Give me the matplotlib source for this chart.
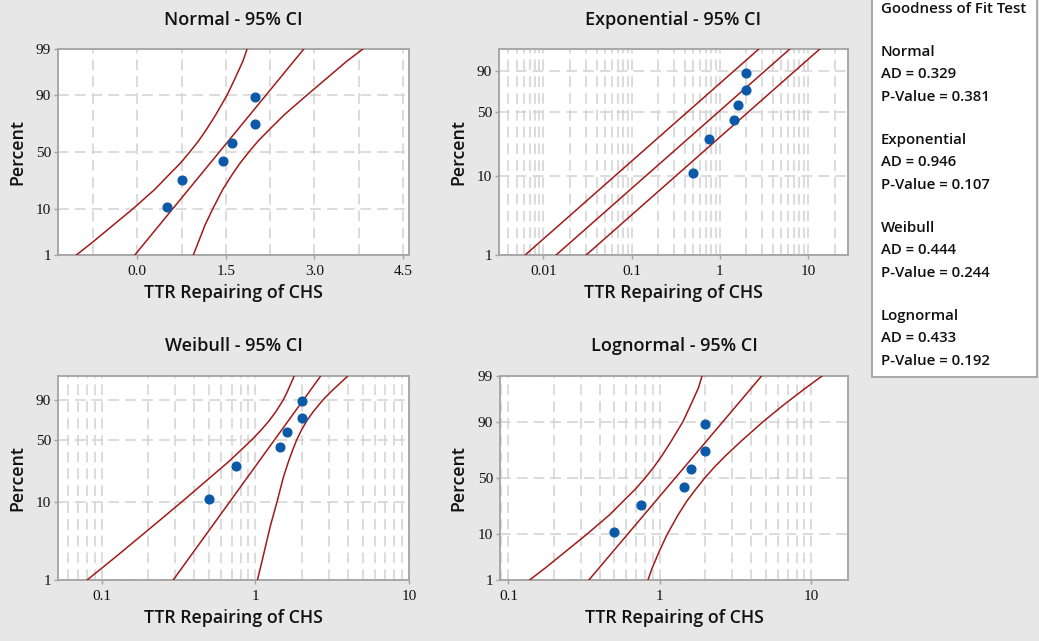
"""
Goodness-of-fit probability plots for TTR Repairing of CHS
(Normal, Exponential, Weibull, Lognormal, each with 95% CI).

Output:
    out.png
"""

from statistics import NormalDist

import matplotlib
matplotlib.use("Agg")
import matplotlib.pyplot as plt
import numpy as np
from matplotlib.patches import Rectangle
from matplotlib.ticker import FixedLocator, LogLocator, NullFormatter, NullLocator

# Sample and median-rank plotting positions
ttr = [0.5, 0.75, 1.45, 1.6, 2.0, 2.0]
pct = [10.9, 26.6, 42.2, 57.8, 73.4, 89.1]

# Normal - fitted line and 95% CI, x read at these percent levels
norm_fit_pct = [1, 99]
norm_fit = [-0.04, 2.82]
norm_ci_pct = [1, 2, 5, 10, 20, 30, 40, 50, 60, 70, 80, 90, 95, 98, 99]
norm_ci_left = [-1.03, -0.77, -0.40, -0.07, 0.30, 0.53, 0.73, 0.89, 1.04, 1.18, 1.33,
                1.52, 1.65, 1.79, 1.86]
norm_ci_right = [0.95, 1.03, 1.15, 1.28, 1.45, 1.60, 1.74, 1.89, 2.05, 2.25, 2.49,
                 2.87, 3.19, 3.55, 3.82]

# Exponential - straight lines on this scale
expo_pct = [1, 99]
expo_fit = [0.0139, 6.4]
expo_ci_left = [0.0062, 2.85]
expo_ci_right = [0.0305, 14.0]

# Weibull
wbl_fit_pct = [1, 99]
wbl_fit = [0.291, 2.64]
wbl_ci_pct = [1, 2, 5, 10, 20, 30, 40, 50, 60, 70, 80, 90, 95, 99]
wbl_ci_left = [0.080, 0.123, 0.215, 0.33, 0.51, 0.67, 0.81, 0.95, 1.085, 1.22, 1.36,
               1.52, 1.62, 1.78]
wbl_ci_right = [1.03, 1.12, 1.25, 1.38, 1.52, 1.64, 1.75, 1.86, 1.99, 2.15, 2.38,
                2.76, 3.14, 3.95]

# Lognormal
logn_fit_pct = [1, 99]
logn_fit = [0.34, 4.70]
logn_ci_pct = [1, 2, 5, 10, 20, 30, 40, 50, 60, 70, 80, 90, 95, 98, 99]
logn_ci_left = [0.138, 0.175, 0.245, 0.33, 0.465, 0.575, 0.69, 0.80, 0.915, 1.04, 1.19,
                1.42, 1.59, 1.80, 1.90]
logn_ci_right = [0.835, 0.89, 1.00, 1.12, 1.32, 1.51, 1.73, 1.98, 2.30, 2.75, 3.45,
                 4.80, 6.45, 9.20, 11.8]

# Goodness of fit table
gof_names = ["Normal", "Exponential", "Weibull", "Lognormal"]
gof_ad = [0.329, 0.946, 0.444, 0.433]
gof_p = [0.381, 0.107, 0.244, 0.192]

# Style
BG = "#e7e7e7"
CURVE = "#a11a1a"
DOT = "#0b5aa9"
GRID = "#d2d2d2"
SPINE = "#a3a3a3"
TXT = "#111111"
LABEL_FONT = ["Open Sans", "DejaVu Sans"]
TICK_FONT = ["Liberation Serif", "DejaVu Serif"]

W, H = 1039, 641

_nd = NormalDist()
_ppf = np.vectorize(_nd.inv_cdf, otypes=[float])
_cdf = np.vectorize(_nd.cdf, otypes=[float])


def norm_fwd(p):
    p = np.clip(np.asarray(p, dtype=float), 1e-4, 100 - 1e-4)
    return _ppf(p / 100.0)


def norm_inv(z):
    return 100.0 * _cdf(np.asarray(z, dtype=float))


def sev_fwd(p):
    p = np.clip(np.asarray(p, dtype=float), 1e-4, 100 - 1e-4) / 100.0
    return np.log(-np.log(1.0 - p))


def sev_inv(w):
    w = np.clip(np.asarray(w, dtype=float), -50, 5)
    return 100.0 * (1.0 - np.exp(-np.exp(w)))


def fx(px):
    return px / W


def fy(py):
    return 1 - py / H


def make_axes(fig, left, top, right, bottom):
    return fig.add_axes([fx(left), fy(bottom), (right - left) / W, (bottom - top) / H])


def style_axes(ax, ylim, yticks, yfwd, yinv):
    ax.set_facecolor("white")
    ax.set_yscale("function", functions=(yfwd, yinv))
    ax.set_ylim(*ylim)
    ax.yaxis.set_major_locator(FixedLocator(yticks))
    ax.yaxis.set_major_formatter(plt.FixedFormatter([str(t) for t in yticks]))
    ax.yaxis.set_minor_locator(NullLocator())
    for s in ax.spines.values():
        s.set_color(SPINE)
        s.set_linewidth(1.3)
    ax.tick_params(which="major", length=3, width=1, color=SPINE, labelcolor=TXT,
                   labelsize=11, pad=2)
    ax.tick_params(axis="x", which="major", pad=4)
    ax.tick_params(which="minor", length=0)
    for lab in ax.get_xticklabels() + ax.get_yticklabels():
        lab.set_family(TICK_FONT)
    ax.grid(True, axis="y", which="major", color=GRID, linestyle=(0, (7, 4)), linewidth=1.1)
    ax.grid(True, axis="x", which="both", color=GRID, linestyle=(0, (7, 4)), linewidth=1.1)
    ax.set_axisbelow(True)


def log_x(ax, xlim, ticks, labels):
    ax.set_xscale("log")
    ax.set_xlim(*xlim)
    ax.set_xticks(ticks, labels=labels)
    ax.xaxis.set_minor_locator(LogLocator(base=10, subs=np.arange(2, 10), numticks=100))
    ax.xaxis.set_minor_formatter(NullFormatter())
    for lab in ax.get_xticklabels():
        lab.set_family(TICK_FONT)


def draw_panel(ax, fit_pct, fit_x, ci_pct, ci_left, ci_right):
    ax.plot(ci_left, ci_pct, color=CURVE, linewidth=1.1, zorder=3)
    ax.plot(ci_right, ci_pct, color=CURVE, linewidth=1.1, zorder=3)
    ax.plot(fit_x, fit_pct, color=CURVE, linewidth=1.1, zorder=3)
    ax.plot(ttr, pct, linestyle="none", marker="o", markersize=6.3,
            color=DOT, zorder=4)


def panel_text(fig, cx, cy_title, cy_xlabel, px_ylabel, cy_ylabel, title):
    fig.text(fx(cx), fy(cy_title), title, ha="center", va="center",
             fontsize=13, fontweight="semibold", family=LABEL_FONT, color=TXT)
    fig.text(fx(cx), fy(cy_xlabel), "TTR Repairing of CHS", ha="center", va="center",
             fontsize=12.8, fontweight="semibold", family=LABEL_FONT, color=TXT)
    fig.text(fx(px_ylabel), fy(cy_ylabel), "Percent", ha="center", va="center",
             rotation=90, fontsize=12.8, fontweight="semibold", family=LABEL_FONT, color=TXT)


if __name__ == "__main__":
    fig = plt.figure(figsize=(W / 100, H / 100), dpi=100, facecolor=BG)

    # Normal
    ax1 = make_axes(fig, 58, 49, 409, 255)
    style_axes(ax1, (1, 99), [1, 10, 50, 90, 99], norm_fwd, norm_inv)
    ax1.set_xlim(-1.34, 4.6)
    ax1.set_xticks([0.0, 1.5, 3.0, 4.5], labels=["0.0", "1.5", "3.0", "4.5"])
    ax1.set_xticks([-0.75, 0.75, 2.25, 3.75], minor=True)
    for lab in ax1.get_xticklabels():
        lab.set_family(TICK_FONT)
    draw_panel(ax1, norm_fit_pct, norm_fit, norm_ci_pct, norm_ci_left, norm_ci_right)
    panel_text(fig, 233.5, 20, 293, 17, 152, "Normal - 95% CI")

    # Exponential
    ax2 = make_axes(fig, 499, 49, 848, 255)
    style_axes(ax2, (1, 98.86), [1, 10, 50, 90], sev_fwd, sev_inv)
    log_x(ax2, (0.00313, 28.4), [0.01, 0.1, 1, 10], ["0.01", "0.1", "1", "10"])
    draw_panel(ax2, expo_pct, expo_fit, expo_pct, expo_ci_left, expo_ci_right)
    panel_text(fig, 673.5, 20, 293, 458, 152, "Exponential - 95% CI")

    # Weibull
    ax3 = make_axes(fig, 58, 376, 409, 580)
    style_axes(ax3, (1, 99.09), [1, 10, 50, 90], sev_fwd, sev_inv)
    log_x(ax3, (0.0517, 10), [0.1, 1, 10], ["0.1", "1", "10"])
    draw_panel(ax3, wbl_fit_pct, wbl_fit, wbl_ci_pct, wbl_ci_left, wbl_ci_right)
    panel_text(fig, 233.5, 346, 618, 17, 478, "Weibull - 95% CI")

    # Lognormal
    ax4 = make_axes(fig, 500, 376, 848, 580)
    style_axes(ax4, (1, 99), [1, 10, 50, 90, 99], norm_fwd, norm_inv)
    log_x(ax4, (0.088, 17.5), [0.1, 1, 10], ["0.1", "1", "10"])
    draw_panel(ax4, logn_fit_pct, logn_fit, logn_ci_pct, logn_ci_left, logn_ci_right)
    panel_text(fig, 674, 346, 618, 458, 478, "Lognormal - 95% CI")

    # Goodness of fit box (top edge runs off the figure)
    box = Rectangle((fx(872), fy(377)), (1037 - 872) / W, (377 + 10) / H,
                    transform=fig.transFigure, facecolor="white", edgecolor=SPINE,
                    linewidth=1.3, clip_on=False)
    fig.add_artist(box)
    fig.text(fx(881), fy(9), "Goodness of Fit Test", ha="left", va="center",
             fontsize=10.8, fontweight="semibold", family=LABEL_FONT, color=TXT)
    for i, name in enumerate(gof_names):
        y0 = 52 + 88 * i
        rows = [name, f"AD = {gof_ad[i]:.3f}", f"P-Value = {gof_p[i]:.3f}"]
        for j, s in enumerate(rows):
            fig.text(fx(881), fy(y0 + 22.5 * j), s, ha="left", va="center",
                     fontsize=10.8, fontweight="semibold", family=LABEL_FONT, color=TXT)

    fig.savefig("out.png", dpi=100, facecolor=BG)
